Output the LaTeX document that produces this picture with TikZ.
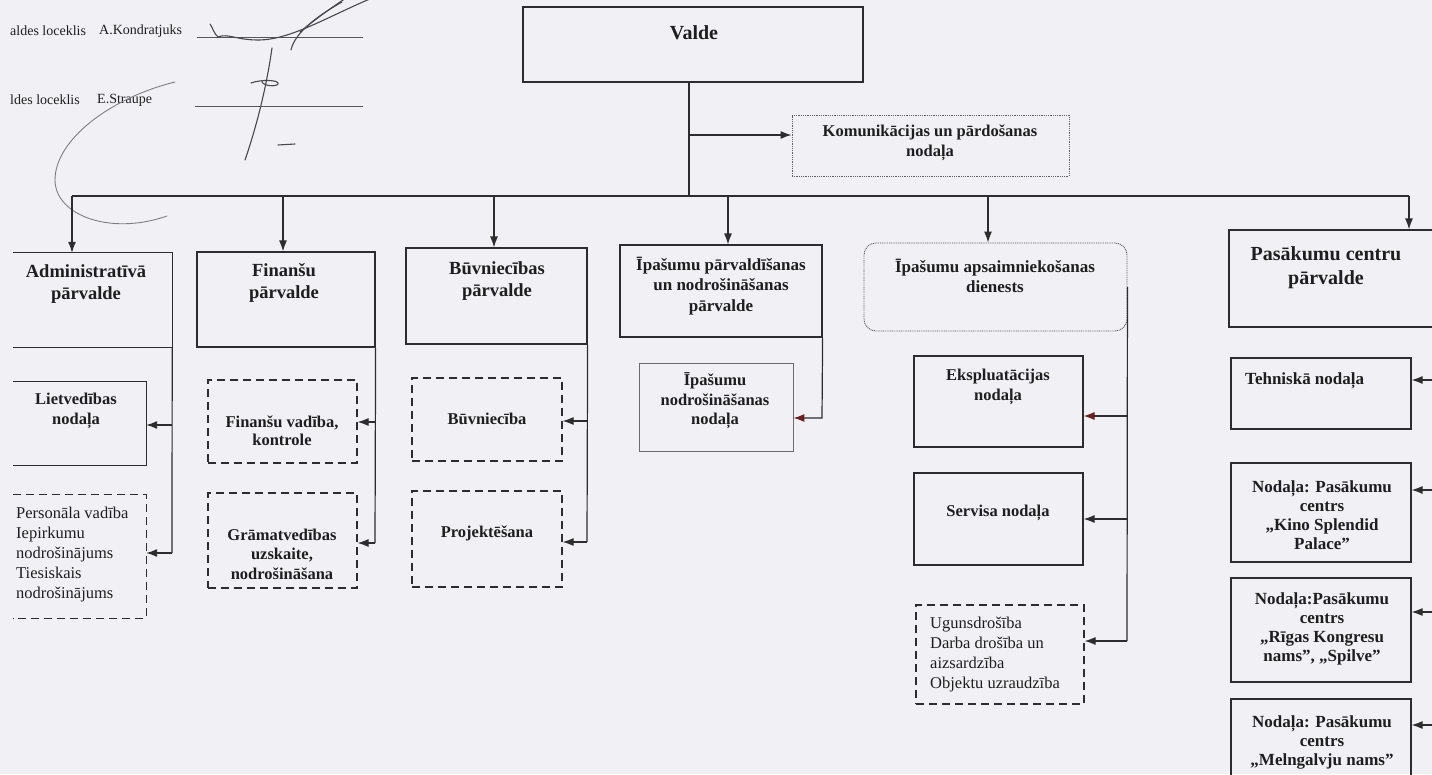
\documentclass[tikz,border=0pt]{standalone}
\usepackage{fontspec}
\setmainfont{Liberation Serif}
\usetikzlibrary{arrows.meta,fit,calc}
\definecolor{paper}{RGB}{241,241,245}
\definecolor{ink}{RGB}{30,30,32}
\definecolor{rule}{RGB}{45,45,48}
\definecolor{maroon}{RGB}{105,30,32}
\definecolor{pencil}{RGB}{72,72,78}

\begin{document}
\begin{tikzpicture}[x=1pt,y=-1pt,
  every node/.style={text=ink, inner sep=0pt},
  frame/.style={draw=rule, line width=1.2pt, inner sep=0pt},
  open/.style={draw=none, inner sep=0pt},
  dashbox/.style={frame, dash pattern=on 8pt off 5pt},
  dotbox/.style={draw=rule!75, line width=0.9pt, dash pattern=on 1pt off 0.8pt, inner sep=0pt},
  link/.style={draw=rule, line width=1.2pt},
  dlink/.style={link, dash pattern=on 8pt off 5pt},
  arr/.style={link, -{Latex[length=11pt,width=8pt]}},
  arrm/.style={link, -{Latex[length=11pt,width=8pt,color=maroon]}},
  hd/.style={font=\bfseries\fontsize{18.5}{22}\selectfont, align=center},
  hdm/.style={font=\bfseries\fontsize{17}{20.5}\selectfont, align=center},
  sb/.style={font=\bfseries\fontsize{16.5}{19.5}\selectfont, align=center},
  sbp/.style={font=\bfseries\fontsize{17}{19}\selectfont, align=center},
  tx/.style={font=\fontsize{16.5}{20}\selectfont, align=left, anchor=west},
  sig/.style={font=\fontsize{14}{16}\selectfont, anchor=west},
  pen/.style={draw=pencil, line width=1.1pt, line cap=round, line join=round}
]

\fill[paper] (0,0) rectangle (1432,774);
\useasboundingbox (0,0) rectangle (1432,774);
\clip (0,0) rectangle (1432,774);

% ---------- signature block ----------
\node[sig] (role1) at (10,31) {aldes loceklis};
\node[sig] (name1) at (99,31) {A.Kondratjuks};
\node[sig] (role2) at (10,100) {ldes loceklis};
\node[sig] (name2) at (97,100) {E.Straupe};
\draw[draw=rule!80, line width=0.9pt] (197,37) -- (363,37);
\draw[draw=rule!80, line width=0.9pt] (195,106) -- (363,106);
% hand-written strokes
\draw[pen] (210,24) .. controls (213,28) and (214,34) .. (218,37)
  .. controls (228,33) and (236,40) .. (258,40)
  .. controls (290,40) and (325,18) .. (372,-2);
\draw[pen] (291,50) .. controls (294,36) and (310,20) .. (342,2);
\draw[pen] (300,32) .. controls (312,22) and (325,12) .. (346,-2);
\draw[pen] (272,48) .. controls (266,90) and (256,128) .. (245,160);
\draw[pen] (251,83) .. controls (262,79) and (280,80) .. (278,84)
  .. controls (276,87) and (264,86) .. (262,82);
\draw[pen] (278,145) -- (295,144);
\draw[draw=pencil!70, line width=0.9pt, line cap=round]
  (175,82) .. controls (110,98) and (55,140) .. (55,180)
  .. controls (55,215) and (110,236) .. (167,216);

% ---------- top level ----------
\node[frame, fit={(523,7) (863,82)}] (valde) {};
\node[font=\bfseries\fontsize{20}{24}\selectfont] (valdeT) at (694,33) {Valde};

\node[dotbox, fit={(792,115) (1069,176)}] (kom) {};
\node[sb] (komT) at (930,143) {Komunikācijas un pārdošanas\\nodaļa};

% ---------- departments ----------
\node[open, fit={(13,253) (172,347)}] (adm) {};
\draw[link] (adm.north west) -- (adm.north east) -- (adm.south east) -- (adm.south west);
\node[hd] (admT) at (86,284) {Administratīvā\\pārvalde};

\node[frame, fit={(197,252) (375,347)}] (fin) {};
\node[hd] (finT) at (284,283) {Finanšu\\pārvalde};

\node[frame, fit={(406,248) (587,344)}] (buv) {};
\node[hd] (buvT) at (497,281) {Būvniecības\\pārvalde};

\node[frame, fit={(620,245) (822,337)}] (ipp) {};
\node[hdm] (ippT) at (721,286) {Īpašumu pārvaldīšanas\\un nodrošināšanas\\pārvalde};

\node[dotbox, rounded corners=12pt, fit={(864,243) (1127,331)}] (aps) {};
\node[hdm] (apsT) at (995,276) {Īpašumu apsaimniekošanas\\dienests};

\node[frame, fit={(1229,230) (1452,327)}] (pas) {};
\node[font=\bfseries\fontsize{20}{24}\selectfont, align=center] (pasT) at (1326,268) {Pasākumu centru\\pārvalde};

% ---------- units ----------
\node[open, fit={(13,382) (146,465)}] (lie) {};
\draw[link] (lie.north west) -- (lie.north east) -- (lie.south east) -- (lie.south west);
\node[sb] (lieT) at (76,411) {Lietvedības\\nodaļa};

\node[open, fit={(13,495) (146,618)}] (per) {};
\draw[dlink] (lie.north west |- per.north) -- (per.north east) -- (per.south east) -- (per.south west);
\node[tx] (perT) at (16,555) {Personāla vadība\\Iepirkumu\\nodrošinājums\\Tiesiskais\\nodrošinājums};

\node[dashbox, fit={(208,380) (357,463)}] (fv) {};
\node[sb, font=\bfseries\fontsize{16.5}{18}\selectfont] (fvT) at (282,431) {Finanšu vadība,\\kontrole};

\node[dashbox, fit={(208,493) (357,588)}] (gr) {};
\node[sb] (grT) at (282,554) {Grāmatvedības\\uzskaite,\\nodrošināšana};

\node[dashbox, fit={(412,378) (562,461)}] (bv) {};
\node[sb] (bvT) at (487,419) {Būvniecība};

\node[dashbox, fit={(412,491) (562,587)}] (pr) {};
\node[sb] (prT) at (487,533) {Projektēšana};

\node[draw=rule!70, line width=0.9pt, inner sep=0pt, fit={(639,363) (793,451)}] (ipn) {};
\node[sb] (ipnT) at (715,401) {Īpašumu\\nodrošināšanas\\nodaļa};

\node[frame, fit={(914,356) (1083,447)}] (ek) {};
\node[sb] (ekT) at (998,387) {Ekspluatācijas\\nodaļa};

\node[frame, fit={(914,473) (1083,565)}] (sv) {};
\node[sb] (svT) at (998,513) {Servisa nodaļa};

\node[dashbox, fit={(916,605) (1084,704)}] (ug) {};
\node[tx] (ugT) at (930,655) {Ugunsdrošība\\Darba drošība un\\aizsardzība\\Objektu uzraudzība};

\node[frame, fit={(1231,358) (1411,429)}] (te) {};
\node[sbp, anchor=west] (teT) at (1245,381) {Tehniskā nodaļa};

\node[frame, fit={(1231,463) (1411,562)}] (ki) {};
\node[sbp] (kiT) at (1322,515) {Nodaļa: Pasākumu\\centrs\\„Kino Splendid\\Palace”};

\node[frame, fit={(1231,578) (1411,682)}] (ri) {};
\node[sbp] (riT) at (1322,629) {Nodaļa:Pasākumu\\centrs\\„Rīgas Kongresu\\nams”, „Spilve”};

\node[frame, fit={(1231,699) (1411,800)}] (me) {};
\node[sbp] (meT) at (1322,742) {Nodaļa: Pasākumu\\centrs\\„Melngalvju nams”};

% ---------- connectors ----------
\coordinate (vj) at (689,135);
\coordinate (busL) at (72,196);
\coordinate (busR) at (1409,196);
\draw[link] (valde.south -| vj) -- (vj |- busL);
\draw[arr] (vj) -- (vj -| kom.west);
\draw[link] (busL) -- (busR);

\coordinate (dF) at (283,196);
\coordinate (dB) at (494,196);
\coordinate (dI) at (728,196);
\coordinate (dA) at (988,196);
\draw[arr] (busL) -- (busL |- adm.north);
\draw[arr] (dF) -- (dF |- fin.north);
\draw[arr] (dB) -- (dB |- buv.north);
\draw[arr] (dI) -- (dI |- ipp.north);
\draw[arr] (dA) -- (dA |- aps.north);
\draw[arr] (busR) -- (busR |- pas.north);

% Administratīvā pārvalde
\coordinate (sA1) at (172,425);
\coordinate (sA2) at (172,553);
\draw[link] (adm.south east) -- (sA2);
\draw[arr] (sA1) -- (sA1 -| lie.east);
\draw[arr] (sA2) -- (sA2 -| per.east);

% Finanšu pārvalde
\coordinate (sF1) at (375,422);
\coordinate (sF2) at (375,543);
\draw[link] (fin.south east) -- (sF2);
\draw[arr] (sF1) -- (sF1 -| fv.east);
\draw[arr] (sF2) -- (sF2 -| gr.east);

% Būvniecības pārvalde
\coordinate (sB1) at (587,421);
\coordinate (sB2) at (587,542);
\draw[link] (buv.south east) -- (sB2);
\draw[arr] (sB1) -- (sB1 -| bv.east);
\draw[arr] (sB2) -- (sB2 -| pr.east);

% Īpašumu pārvaldīšanas un nodrošināšanas pārvalde
\coordinate (sI1) at (822,418);
\draw[arrm] (ipp.south east) -- (sI1) -- (sI1 -| ipn.east);

% Īpašumu apsaimniekošanas dienests
\coordinate (sE1) at (1127,416);
\coordinate (sE2) at (1127,519);
\coordinate (sE3) at (1127,641);
\draw[link] (aps.east) -- (sE3);
\draw[arrm] (sE1) -- (sE1 -| ek.east);
\draw[arr] (sE2) -- (sE2 -| sv.east);
\draw[arr] (sE3) -- (sE3 -| ug.east);

% Pasākumu centru pārvalde
\coordinate (sP0) at (1445,327);
\coordinate (sP1) at (1445,380);
\coordinate (sP2) at (1445,490);
\coordinate (sP3) at (1445,612);
\coordinate (sP4) at (1445,725);
\draw[link] (sP0) -- (sP4);
\draw[arr] (sP1) -- (sP1 -| te.east);
\draw[arr] (sP2) -- (sP2 -| ki.east);
\draw[arr] (sP3) -- (sP3 -| ri.east);
\draw[arr] (sP4) -- (sP4 -| me.east);
\end{tikzpicture}
\end{document}
